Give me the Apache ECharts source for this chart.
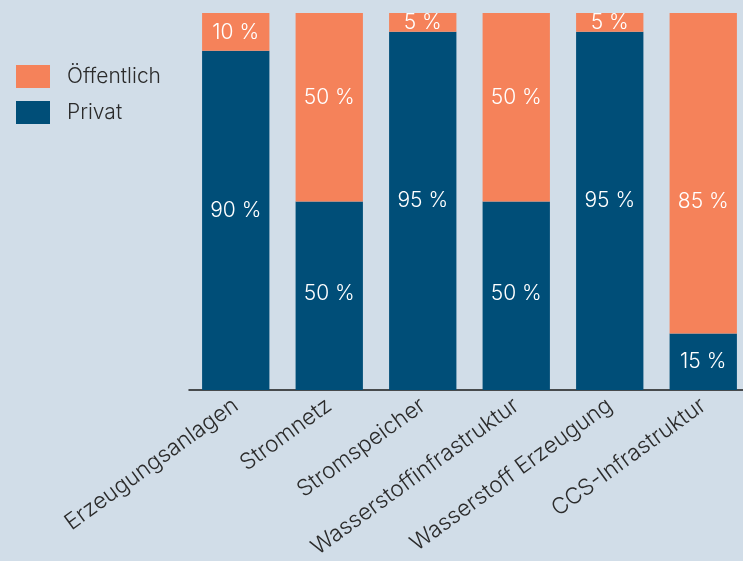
<!DOCTYPE html>
<html>
<head>
<meta charset="utf-8">
<script src="https://cdn.jsdelivr.net/npm/echarts@6/dist/echarts.min.js"></script>
<style>
  html, body { margin: 0; padding: 0; background: #d1dde8; }
  #chart { width: 743px; height: 561px; }
</style>
</head>
<body>
<div id="chart"></div>
<script>
var categories = ['Erzeugungsanlagen', 'Stromnetz', 'Stromspeicher', 'Wasserstoffinfrastruktur', 'Wasserstoff Erzeugung', 'CCS-Infrastruktur'];
var privat = [90, 50, 95, 50, 95, 15];
var oeffentlich = [10, 50, 5, 50, 5, 85];

var fontFamily = 'Inter, "Noto Sans", sans-serif';

// label nudges so the values sit where the original has them
function withLabelShift(values, shifts) {
    return values.map(function (v, i) {
        return { value: v, label: { offset: [0, shifts[i]] } };
    });
}

var myChart = echarts.init(document.getElementById('chart'));
var barLabel = {
    show: true,
    position: 'inside',
    formatter: '{c} %',
    color: '#ffffff',
    fontSize: 21,
    fontWeight: 300,
    fontFamily: fontFamily
};
var option = {
    backgroundColor: '#d1dde8',
    textStyle: { fontFamily: fontFamily },
    legend: {
        orient: 'vertical',
        left: 11,
        top: 60,
        itemWidth: 34,
        itemHeight: 23,
        itemGap: 13,
        icon: 'rect',
        data: ['Öffentlich', 'Privat'],
        textStyle: { fontSize: 21, fontWeight: 300, color: '#2b2b2b', padding: [0, 0, 0, 12], fontFamily: fontFamily }
    },
    grid: { left: 189, width: 561, top: 13, height: 377, outerBoundsMode: 'none', containLabel: false },
    xAxis: {
        type: 'category',
        data: categories,
        axisLine: { lineStyle: { color: '#1a1a1a', width: 1.5 } },
        axisTick: { show: false },
        axisLabel: {
            rotate: 36,
            fontSize: 22.5,
            fontWeight: 300,
            color: '#2b2b2b',
            margin: 13,
            interval: 0,
            fontFamily: fontFamily
        }
    },
    yAxis: {
        type: 'value',
        min: 0,
        max: 100,
        show: false
    },
    series: [
        {
            name: 'Privat',
            type: 'bar',
            stack: 'total',
            barWidth: '72%',
            data: withLabelShift(privat, [-10, -2, -10, -2, -10, 0]),
            itemStyle: { color: '#004e78' },
            label: barLabel
        },
        {
            name: 'Öffentlich',
            type: 'bar',
            stack: 'total',
            data: withLabelShift(oeffentlich, [1, -10, 0, -10, 0, 28]),
            itemStyle: { color: '#f5825a' },
            label: barLabel
        }
    ]
};
myChart.setOption(option);
</script>
</body>
</html>
